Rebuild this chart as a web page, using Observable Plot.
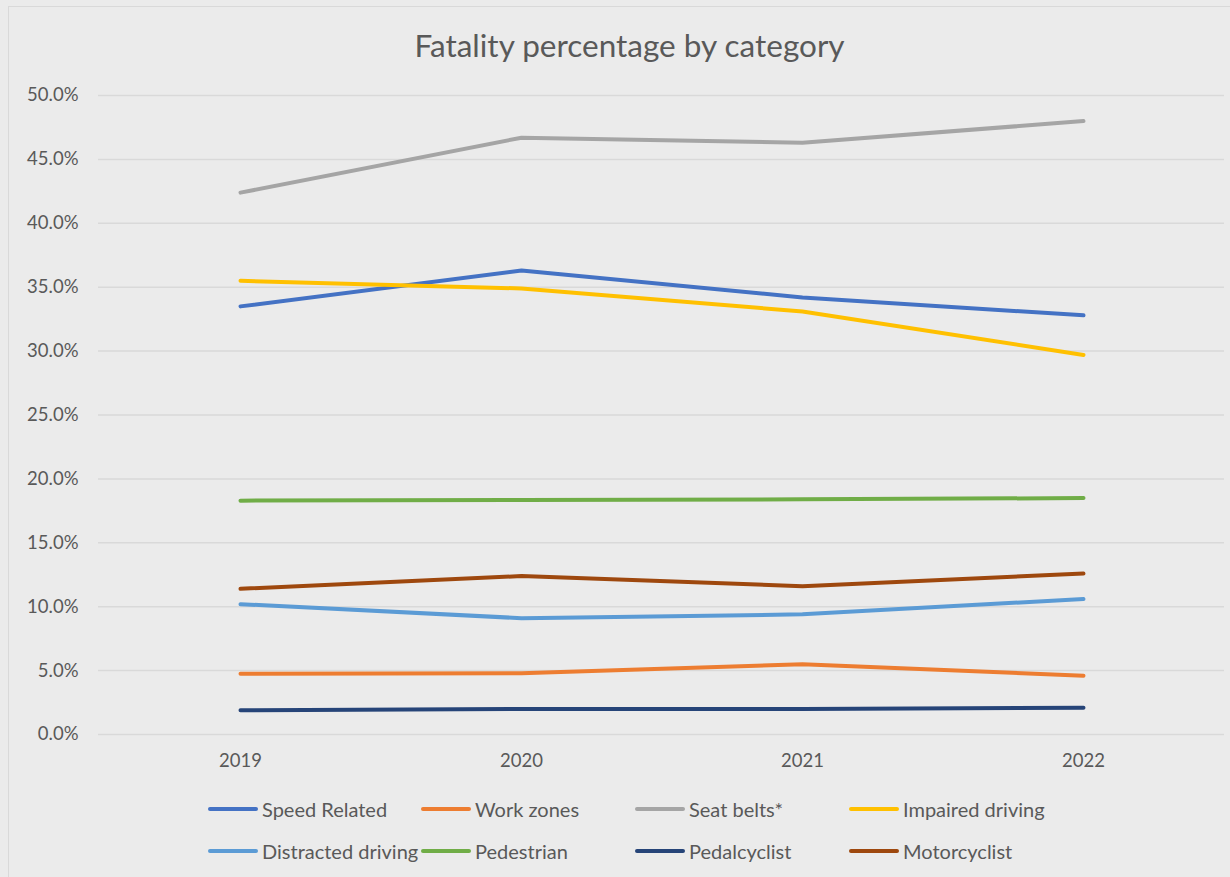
<!DOCTYPE html>
<html>
<head>
<meta charset="utf-8">
<script src="https://cdn.jsdelivr.net/npm/d3@7"></script>
<script src="https://cdn.jsdelivr.net/npm/@observablehq/plot@0.6"></script>
<style>
  html, body { margin: 0; padding: 0; background: #ebebeb; }
  #wrap { position: relative; width: 1230px; height: 877px; background: #ebebeb; overflow: hidden; font-family: Lato, "Open Sans", sans-serif; color: #595959; }
  #frame { position: absolute; left: 8px; top: 6px; width: 1240px; height: 900px; border: 1px solid #d9d9d9; box-sizing: border-box; }
  #title { position: absolute; left: 0; width: 1259px; top: 26px; text-align: center; font-size: 31.5px; color: #595959; }
  #chart { position: absolute; left: 0; top: 0; }
  .leg { position: absolute; display: flex; align-items: center; font-size: 20px; color: #595959; white-space: nowrap; }
  .sw { width: 50px; height: 4px; border-radius: 2px; margin-right: 4px; }
</style>
</head>
<body>
<div id="wrap">
  <div id="frame"></div>
  <div id="chart"></div>
  <div id="title">Fatality percentage by category</div>
</div>
<script>
const years = ["2019", "2020", "2021", "2022"];
const categories = ["Speed Related", "Work zones", "Seat belts*", "Impaired driving", "Distracted driving", "Pedestrian", "Pedalcyclist", "Motorcyclist"];
const colors = ["#4472C4", "#ED7D31", "#A5A5A5", "#FFC000", "#5B9BD5", "#70AD47", "#264478", "#9E480E"];
const speedRelated = [33.5, 36.3, 34.2, 32.8];
const workZones = [4.75, 4.8, 5.5, 4.6];
const seatBelts = [42.4, 46.7, 46.3, 48.0];
const impairedDriving = [35.5, 34.9, 33.1, 29.7];
const distractedDriving = [10.2, 9.1, 9.4, 10.6];
const pedestrian = [18.3, 18.35, 18.4, 18.5];
const pedalcyclist = [1.9, 2.0, 2.0, 2.1];
const motorcyclist = [11.4, 12.4, 11.6, 12.6];
const yTicks = [0, 5, 10, 15, 20, 25, 30, 35, 40, 45, 50];

const seriesValues = [speedRelated, workZones, seatBelts, impairedDriving, distractedDriving, pedestrian, pedalcyclist, motorcyclist];
const rows = [];
categories.forEach((c, i) => years.forEach((y, j) => rows.push({category: c, year: y, value: seriesValues[i][j]})));

const chart = Plot.plot({
  width: 1230,
  height: 877,
  marginLeft: 98,
  marginRight: 6,
  marginTop: 95,
  marginBottom: 143,
  style: {background: "transparent", fontFamily: "Lato, 'Open Sans', sans-serif", fontSize: "18.5px", color: "#595959"},
  x: {type: "point", domain: years, padding: 0.5, label: null, tickSize: 0, tickPadding: 19},
  y: {domain: [0, 50], ticks: yTicks, label: null, tickSize: 0, tickPadding: 20, tickFormat: d => d.toFixed(1) + "%"},
  color: {domain: categories, range: colors},
  marks: [
    Plot.gridY(yTicks, {stroke: "#d9d9d9", strokeOpacity: 1, strokeWidth: 1.5}),
    Plot.axisY({ticks: yTicks, tickSize: 0, tickPadding: 20, tickFormat: d => d.toFixed(1) + "%", fill: "#595959", fontSize: 18.5, label: null}),
    Plot.axisX({tickSize: 0, tickPadding: 19, fill: "#595959", fontSize: 18.5, label: null}),
    Plot.line(rows, {x: "year", y: "value", z: "category", stroke: "category", strokeWidth: 4, strokeLinecap: "round", strokeLinejoin: "round"})
  ]
});
document.getElementById("chart").appendChild(chart);

const legX = [208, 421, 635, 849];
const legY = [809, 851];
const wrap = document.getElementById("wrap");
categories.forEach((c, i) => {
  const d = document.createElement("div");
  d.className = "leg";
  d.style.left = legX[i % 4] + "px";
  d.style.top = (legY[Math.floor(i / 4)] - 13) + "px";
  d.style.height = "26px";
  const sw = document.createElement("div");
  sw.className = "sw";
  sw.style.background = colors[i];
  const t = document.createElement("span");
  t.textContent = c;
  d.appendChild(sw);
  d.appendChild(t);
  wrap.appendChild(d);
});
</script>
</body>
</html>
